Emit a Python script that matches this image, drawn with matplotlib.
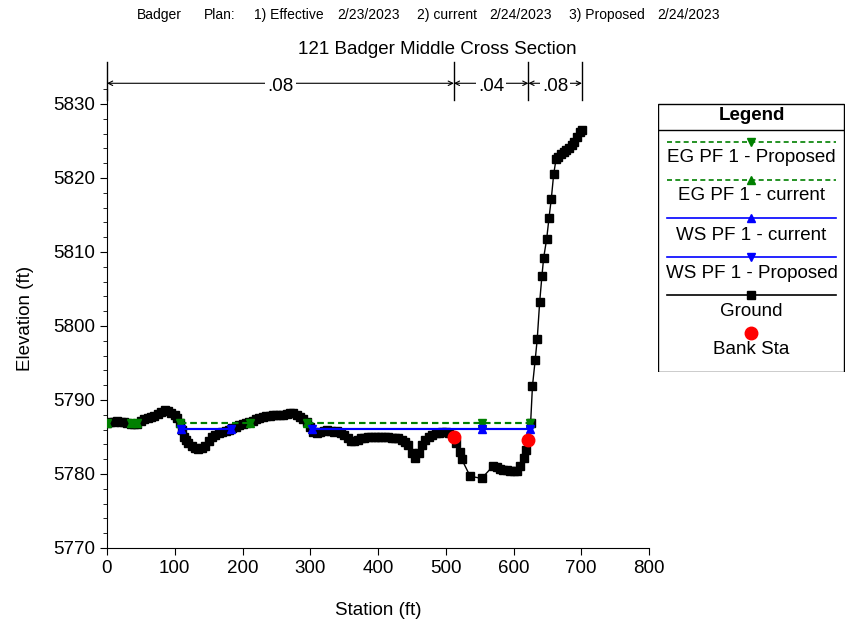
import numpy as np
import matplotlib
matplotlib.use("Agg")
import matplotlib.pyplot as plt
from matplotlib.ticker import MultipleLocator
from matplotlib.patches import Rectangle

plt.rcParams["font.family"] = ["Liberation Sans", "DejaVu Sans"]

# ── Cross-section data ───────────────────────────────────────────────────────
ground_sta = [
    0, 5, 10, 15, 20, 25, 30, 35, 40, 45, 50, 55, 60, 65, 70, 75, 80, 85, 90, 95,
    100, 104, 108, 111, 113, 116, 120, 125, 130, 135, 140, 145, 150, 155, 160,
    165, 170, 175, 180, 185, 190, 195, 200, 205, 210, 215, 220, 225, 230, 235,
    240, 245, 250, 255, 260, 265, 270, 275, 280, 285, 290, 295, 300, 304, 310,
    315, 320, 325, 330, 335, 340, 345, 350, 355, 360, 365, 370, 375, 380, 385,
    390, 395, 400, 405, 410, 415, 420, 425, 430, 435, 440, 445, 450, 455, 460,
    465, 470, 475, 480, 485, 490, 495, 500, 505, 510, 512, 515, 521, 523.5,
    536, 553, 570, 575, 580, 585, 590, 595, 600, 605, 609.6, 615.5, 618.5, 622,
    625.3, 628, 632, 635, 638.6, 642, 644.5, 649, 652.4, 655.8, 659.3, 662.7,
    666, 670, 674, 678, 682, 686, 690, 694, 698, 701,
]
ground_elev = [
    5786.9, 5787.0, 5787.0, 5787.1, 5787.0, 5787.0, 5786.9, 5786.8, 5786.7, 5786.8,
    5787.2, 5787.4, 5787.6, 5787.7, 5787.9, 5788.1, 5788.4, 5788.6, 5788.5, 5788.3,
    5788.0, 5787.6, 5786.9, 5786.0, 5785.0, 5784.6, 5784.2, 5783.8, 5783.5, 5783.4,
    5783.5, 5783.8, 5784.5, 5785.0, 5785.3, 5785.5, 5785.7, 5785.8, 5786.0, 5786.2,
    5786.4, 5786.6, 5786.8, 5786.9, 5787.0, 5787.2, 5787.4, 5787.6, 5787.7, 5787.8,
    5787.9, 5788.0, 5788.0, 5788.0, 5788.0, 5788.1, 5788.2, 5788.2, 5788.0, 5787.7,
    5787.4, 5787.0, 5786.3, 5785.7, 5785.6, 5785.7, 5785.8, 5785.9, 5785.8, 5785.7,
    5785.8, 5785.6, 5785.3, 5784.8, 5784.5, 5784.5, 5784.6, 5784.8, 5784.9, 5785.0,
    5785.0, 5785.0, 5785.0, 5785.0, 5785.0, 5785.0, 5784.9, 5784.9, 5784.8, 5784.6,
    5784.3, 5783.9, 5782.8, 5782.2, 5782.8, 5783.9, 5784.6, 5785.0, 5785.3, 5785.5,
    5785.6, 5785.7, 5785.7, 5785.5, 5785.1, 5785.0, 5784.2, 5783.0, 5782.0,
    5779.7, 5779.4, 5781.1, 5780.9, 5780.7, 5780.6, 5780.5, 5780.4, 5780.4, 5780.4,
    5781.1, 5782.1, 5783.3, 5784.6,
    5786.95, 5791.9, 5795.4, 5798.2, 5803.2, 5806.8, 5809.2, 5811.8, 5814.6,
    5817.2, 5820.5, 5822.5, 5822.9, 5823.2, 5823.5, 5823.8, 5824.1, 5824.4,
    5824.8, 5825.5, 5826.2, 5826.5,
]

bank_sta = [512, 622]
bank_elev = [5785.0, 5784.6]

# wetted reaches of the energy grade / water surface (NaN breaks the line)
eg_sta = [0, np.nan, 35, 44, np.nan, 108, 211, np.nan, 295, 553, 625]
eg_elev = 5786.9
ws_sta = [109, 183, np.nan, 302, 553, 625]
ws_elev = 5786.1

n_sta = [0, 512, 622, 701]
n_vals = [".08", ".04", ".08"]

header = [
    (137, "Badger"), (204, "Plan:"), (254, "1) Effective"), (337, "2/23/2023"),
    (417, "2) current"), (489, "2/24/2023"), (569, "3) Proposed"), (657, "2/24/2023"),
]

# ── Style ────────────────────────────────────────────────────────────────────
GREEN = "#008000"
BLUE = "#0000ff"
RED = "#ff0000"
FS = 13.5

W, H = 861, 621
fig = plt.figure(figsize=(W / 100, H / 100), dpi=100)
ax = fig.add_axes([107 / W, 1 - 548 / H, 542 / W, 458.8 / H])

ax.plot(ground_sta, ground_elev, color="black", lw=1, marker="s", ms=6,
        mfc="black", mec="black", zorder=2)

eg_y = [eg_elev if not np.isnan(s) else np.nan for s in eg_sta]
ws_y = [ws_elev if not np.isnan(s) else np.nan for s in ws_sta]
ax.plot(eg_sta, eg_y, color=GREEN, lw=1.5, ls=(0, (3, 2)), marker="v", ms=6, zorder=3)
ax.plot(eg_sta, eg_y, color=GREEN, lw=1.5, ls=(0, (3, 2)), marker="^", ms=6, zorder=3)
ax.plot(ws_sta, ws_y, color=BLUE, lw=1.5, marker="^", ms=6, zorder=3)
ax.plot(ws_sta, ws_y, color=BLUE, lw=1.5, marker="v", ms=6, zorder=3)

ax.plot(bank_sta, bank_elev, ls="none", marker="o", ms=9, color=RED, zorder=4)

ax.set_xlim(0, 800)
ax.set_ylim(5770, 5832)
ax.xaxis.set_major_locator(MultipleLocator(100))
ax.yaxis.set_major_locator(MultipleLocator(10))
ax.yaxis.set_minor_locator(MultipleLocator(2))
ax.tick_params(which="major", direction="out", length=5, labelsize=FS)
ax.tick_params(which="minor", direction="out", length=3)
for side in ("top", "right"):
    ax.spines[side].set_visible(False)
ax.set_xlabel("Station (ft)", fontsize=FS, labelpad=18)
ax.set_ylabel("Elevation (ft)", fontsize=FS, labelpad=14)

# Manning's n regions above the section
y_arrow, y_lo, y_hi = 5832.8, 5830.5, 5835.7
for s in n_sta:
    ax.plot([s, s], [y_lo, y_hi], color="black", lw=1, clip_on=False)
for a, b, lab in zip(n_sta[:-1], n_sta[1:], n_vals):
    ax.annotate("", xy=(a, y_arrow), xytext=(b, y_arrow), annotation_clip=False,
                arrowprops=dict(arrowstyle="<->", color="black", lw=0.8,
                                shrinkA=0, shrinkB=0, mutation_scale=8))
    ax.text((a + b) / 2, y_arrow - 0.4, lab, ha="center", va="center", fontsize=FS,
            clip_on=False, bbox=dict(facecolor="white", edgecolor="none", pad=1.5))

fig.text(437 / W, 1 - 49 / H, "121 Badger Middle Cross Section", ha="center",
         va="center", fontsize=FS)
for px, txt in header:
    fig.text(px / W, 1 - 15 / H, txt, ha="left", va="center", fontsize=10)

# ── Legend panel ─────────────────────────────────────────────────────────────
lg = fig.add_axes([658 / W, 1 - 372 / H, 187 / W, 269 / H])
lg.set_xlim(658, 845)
lg.set_ylim(372, 103)
lg.axis("off")
lg.add_patch(Rectangle((658.5, 103.5), 186, 268, fill=False, ec="black", lw=1))
lg.plot([658, 845], [130, 130], color="black", lw=1)
lg.text(751.5, 115, "Legend", ha="center", va="center", fontsize=FS, fontweight="bold")

entries = [
    ("EG PF 1 - Proposed", GREEN, (0, (3, 2)), "v", 142, 158),
    ("EG PF 1 - current", GREEN, (0, (3, 2)), "^", 180, 196),
    ("WS PF 1 - current", BLUE, "-", "^", 218, 235),
    ("WS PF 1 - Proposed", BLUE, "-", "v", 257, 273),
    ("Ground", "black", "-", "s", 295, 311),
]
for label, col, ls, mk, y_line, y_txt in entries:
    lg.plot([667, 836], [y_line, y_line], color=col, ls=ls, lw=1.2)
    lg.plot([751.5], [y_line], color=col, marker=mk, ms=6)
    lg.text(751.5, y_txt, label, ha="center", va="center", fontsize=FS)
lg.plot([751.5], [333], color=RED, marker="o", ms=9)
lg.text(751.5, 350, "Bank Sta", ha="center", va="center", fontsize=FS)

fig.savefig("out.png", dpi=100, facecolor="white")
